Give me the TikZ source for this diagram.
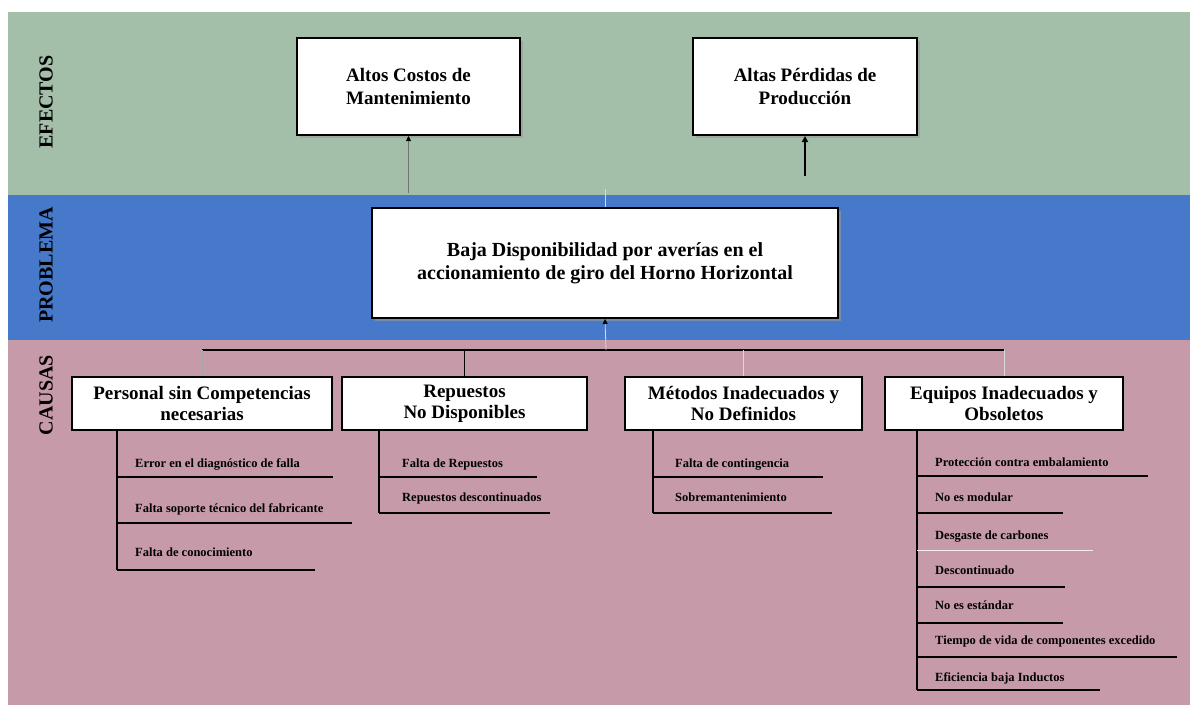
\documentclass[tikz,border=0pt]{standalone}
\usepackage{fontspec}
\setmainfont{Liberation Serif}
\usetikzlibrary{arrows.meta,shadows}
\definecolor{effband}{HTML}{A3BEA9}
\definecolor{probband}{HTML}{4679C9}
\definecolor{cauband}{HTML}{C79AAA}
\tikzset{
  bigbox/.style={draw, line width=2pt, fill=white, align=center, inner sep=0pt,
    drop shadow={shadow xshift=2.5pt, shadow yshift=-2.5pt, fill=black!40, opacity=0.6},
    font=\bfseries\fontsize{19}{23}\selectfont},
  causebox/.style={draw, line width=2pt, fill=white, align=center, inner sep=0pt,
    drop shadow={shadow xshift=2pt, shadow yshift=-2pt, fill=black!35, opacity=0.5},
    minimum height=53pt, font=\bfseries\fontsize{19}{21}\selectfont},
  bandlabel/.style={rotate=90, font=\bfseries\fontsize{20}{22}\selectfont, inner sep=0pt},
  item/.style={anchor=base west, inner sep=0pt, font=\bfseries\fontsize{12.5}{14}\selectfont},
  rule/.style={line width=1.6pt, black},
  spine/.style={line width=1.6pt, black},
  drop/.style={line width=0.8pt},
}
\begin{document}
\begin{tikzpicture}[x=1pt,y=-1pt]
\useasboundingbox (0,0) rectangle (1190,713);
\fill[white] (0,0) rectangle (1190,713);
% bands
\fill[effband] (8,12) rectangle (1190,195);
\fill[probband] (8,195) rectangle (1190,340);
\fill[cauband] (8,340) rectangle (1190,705);
% band labels
\node[bandlabel] (lefe) at (46,102) {EFECTOS};
\node[bandlabel] (lpro) at (46,265) {PROBLEMA};
\node[bandlabel] (lcau) at (46,395) {CAUSAS};
% effects
\node[bigbox, minimum width=223pt, minimum height=97pt] (e1) at (408.5,86.5) {Altos Costos de\\Mantenimiento};
\node[bigbox, minimum width=224pt, minimum height=97pt] (e2) at (805,86.5) {Altas Pérdidas de\\Producción};
% problem
\node[bigbox, minimum width=466pt, minimum height=110pt, font=\bfseries\fontsize{20}{23}\selectfont] (pb) at (605,263) {Baja Disponibilidad por averías en el\\accionamiento de giro del Horno Horizontal};
% arrows to effects
\coordinate (a1) at (408.5,193);
\coordinate (a2) at (805,176);
\coordinate (a3) at (605,189);
\draw[line width=0.8pt, black!55, -{Triangle[length=5pt,width=5pt,color=black]}] (a1) -- (e1.south);
\draw[line width=1.6pt, -{Triangle[length=6pt,width=6pt]}] (a2) -- (e2.south);
\draw[line width=0.8pt, white!85!black] (pb.north) -- (a3);
% causes
\node[causebox, minimum width=260pt] (c1) at (202,403.5) {Personal sin Competencias\\necesarias};
\node[causebox, minimum width=245pt] (c2) at (464.5,403.5) {Repuestos\\No Disponibles};
\node[causebox, minimum width=237pt] (c3) at (743.5,403.5) {Métodos Inadecuados y\\No Definidos};
\node[causebox, minimum width=238pt] (c4) at (1004,403.5) {Equipos Inadecuados y\\Obsoletos};
% bar
\coordinate (b1) at (202,350);
\coordinate (b4) at (1004,350);
\coordinate (bm) at (606,350);
\draw[rule] (b1) -- (b4);
\draw[drop, black!35] (b1) -- (c1.north);
\draw[drop, black] (c2.north |- bm) -- (c2.north);
\draw[drop, white!85!black] (c3.north |- bm) -- (c3.north);
\draw[drop, white!85!black] (b4) -- (c4.north);
\draw[line width=0.8pt, white!85!black, -{Triangle[length=5pt,width=5pt,color=black]}] (bm) -- (pb.south);
% --- Personal
\coordinate (s1t) at (117,430);
\coordinate (s1b) at (117,570);
\draw[spine] (s1t) -- (s1b);
\node[item] (p1) at (135,467) {Error en el diagnóstico de falla};
\node[item] (p2) at (135,512) {Falta soporte técnico del fabricante};
\node[item] (p3) at (135,556) {Falta de conocimiento};
\coordinate (p1e) at (333,477);
\coordinate (p2e) at (352,523);
\coordinate (p3e) at (315,570);
\draw[rule] (s1t |- p1e) -- (p1e);
\draw[rule] (s1t |- p2e) -- (p2e);
\draw[rule] (s1b) -- (p3e);
% --- Repuestos
\coordinate (s2t) at (379,430);
\coordinate (s2b) at (379,513);
\draw[spine] (s2t) -- (s2b);
\node[item] (r1) at (402,467) {Falta de Repuestos};
\node[item] (r2) at (402,501) {Repuestos descontinuados};
\coordinate (r1e) at (537,477);
\coordinate (r2e) at (550,513);
\draw[rule] (s2t |- r1e) -- (r1e);
\draw[rule] (s2b) -- (r2e);
% --- Metodos
\coordinate (s3t) at (653,430);
\coordinate (s3b) at (653,513);
\draw[spine] (s3t) -- (s3b);
\node[item] (m1) at (675,467) {Falta de contingencia};
\node[item] (m2) at (675,501) {Sobremantenimiento};
\coordinate (m1e) at (823,477);
\coordinate (m2e) at (832,513);
\draw[rule] (s3t |- m1e) -- (m1e);
\draw[rule] (s3b) -- (m2e);
% --- Equipos
\coordinate (s4t) at (917,430);
\coordinate (s4b) at (917,690);
\draw[spine] (s4t) -- (s4b);
\node[item] (q1) at (935,466) {Protección contra embalamiento};
\node[item] (q2) at (935,501) {No es modular};
\node[item] (q3) at (935,539) {Desgaste de carbones};
\node[item] (q4) at (935,574) {Descontinuado};
\node[item] (q5) at (935,609) {No es estándar};
\node[item] (q6) at (935,644) {Tiempo de vida de componentes excedido};
\node[item] (q7) at (935,681) {Eficiencia baja Inductos};
\coordinate (q1e) at (1148,476);
\coordinate (q2e) at (1063,513);
\coordinate (q3e) at (1093,550);
\coordinate (q4e) at (1065,587);
\coordinate (q5e) at (1063,623);
\coordinate (q6e) at (1177,657);
\coordinate (q7e) at (1100,690);
\draw[rule] (s4t |- q1e) -- (q1e);
\draw[rule] (s4t |- q2e) -- (q2e);
\draw[line width=0.8pt, white!80!cauband] (s4t |- q3e) -- (q3e);
\draw[rule] (s4t |- q4e) -- (q4e);
\draw[rule] (s4t |- q5e) -- (q5e);
\draw[rule] (s4t |- q6e) -- (q6e);
\draw[rule] (s4b) -- (q7e);
\end{tikzpicture}
\end{document}
